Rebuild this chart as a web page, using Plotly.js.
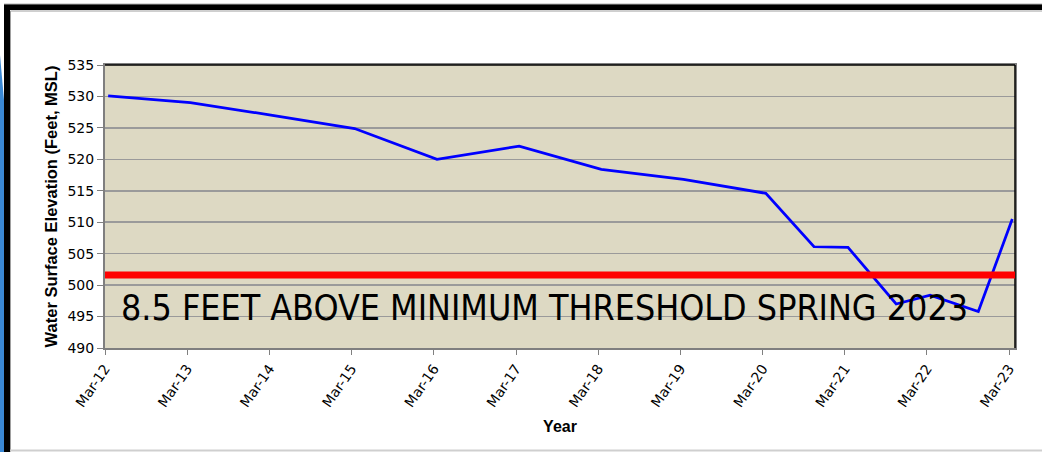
<!DOCTYPE html>
<html>
<head>
<meta charset="utf-8">
<script src="https://cdn.plot.ly/plotly-3.0.1.min.js"></script>
<style>
html,body{margin:0;padding:0;background:#fff;}
#chart{width:1042px;height:452px;}
</style>
</head>
<body>
<div id="chart"></div>
<script>
// ---- data ----
var dates = ['2012-03-15','2013-03-15','2014-03-15','2015-03-15','2016-03-15','2017-03-15','2018-03-15','2019-03-15','2020-03-15','2020-10-15','2021-03-15','2021-10-15','2022-03-15','2022-10-15','2023-03-15'];
var elevation = [530.1, 529.0, 527.0, 524.9, 520.0, 522.1, 518.4, 516.8, 514.6, 506.1, 506.0, 497.0, 498.4, 495.8, 510.5];
var tickDates = ['2012-03-01','2013-03-01','2014-03-01','2015-03-01','2016-03-01','2017-03-01','2018-03-01','2019-03-01','2020-03-01','2021-03-01','2022-03-01','2023-03-01'];
var tickLabels = ['Mar-12','Mar-13','Mar-14','Mar-15','Mar-16','Mar-17','Mar-18','Mar-19','Mar-20','Mar-21','Mar-22','Mar-23'];
var yTicks = [490, 495, 500, 505, 510, 515, 520, 525, 530, 535];
var thresholdElev = 501.6;
var noteText = '8.5 FEET ABOVE MINIMUM THRESHOLD SPRING 2023';

// ---- layout helpers (pixel -> paper) ----
var W = 1042, H = 452, L = 105, R = 27, T = 65, B = 104;
var pw = W - L - R, ph = H - T - B;
function px(x){ return (x - L) / pw; }
function py(y){ return (H - B - y) / ph; }

var trace = {
  x: dates, y: elevation, type: 'scatter', mode: 'lines',
  line: {color: '#0000FF', width: 2.75},
  hoverinfo: 'skip', showlegend: false
};

var tickFont = {family: 'DejaVu Sans, sans-serif', size: 14, color: '#000'};
var xTitleFont = {family: 'Liberation Sans, Arial, sans-serif', size: 16, color: '#000', weight: 'bold'};
var yTitleFont = {family: 'Liberation Sans, Arial, sans-serif', size: 16.5, color: '#000', weight: 'bold'};

var layout = {
  width: W, height: H,
  margin: {l: L, r: R, t: T, b: B, pad: 0},
  paper_bgcolor: '#ffffff',
  plot_bgcolor: '#DDD9C3',
  showlegend: false,
  xaxis: {
    type: 'date',
    range: ['2012-03-01', '2023-03-27'],
    tickmode: 'array', tickvals: tickDates, ticktext: tickLabels,
    tickangle: -55, tickfont: tickFont,
    ticks: 'outside', ticklen: 5, tickwidth: 1, tickcolor: '#808080',
    showgrid: false, zeroline: false,
    showline: true, linecolor: '#7f7f7f', linewidth: 2, mirror: true,
    title: {text: '<b>Year</b>', font: xTitleFont, standoff: 12}
  },
  yaxis: {
    range: [490, 535],
    tickmode: 'array', tickvals: yTicks,
    tickfont: tickFont,
    ticks: 'outside', ticklen: 6, tickwidth: 1, tickcolor: '#808080',
    showgrid: true, gridcolor: '#9a9a9a', gridwidth: 1.6,
    zeroline: false,
    showline: true, linecolor: '#7f7f7f', linewidth: 2, mirror: true,
    title: {text: '<b>Water Surface Elevation (Feet, MSL)</b>', font: yTitleFont, standoff: 6}
  },
  shapes: [
    {type: 'line', xref: 'paper', yref: 'paper', x0: 0, x1: 1, y0: 1, y1: 1, line: {color: '#000', width: 1.5}},
    {type: 'line', xref: 'paper', yref: 'paper', x0: 1, x1: 1, y0: 0, y1: 1, line: {color: '#000', width: 1.5}},
    {type: 'line', xref: 'paper', yref: 'y', x0: 0, x1: 1, y0: thresholdElev, y1: thresholdElev,
     line: {color: '#FF0000', width: 7}},
    {type: 'path', xref: 'paper', yref: 'paper', layer: 'above',
     path: 'M ' + px(0) + ',' + py(55) + ' L ' + px(4) + ',' + py(100) + ' L ' + px(4) + ',' + py(452) + ' L ' + px(0) + ',' + py(452) + ' Z',
     fillcolor: '#3A88D4', line: {width: 0}},
    {type: 'rect', xref: 'paper', yref: 'paper', x0: px(4), x1: px(1042), y0: py(10), y1: py(4),
     fillcolor: '#000', line: {width: 0}},
    {type: 'rect', xref: 'paper', yref: 'paper', x0: px(4), x1: px(10), y0: py(452), y1: py(4),
     fillcolor: '#000', line: {width: 0}},
    {type: 'line', xref: 'paper', yref: 'paper', x0: px(10.5), x1: px(1042), y0: py(11), y1: py(11), line: {color: '#a0a0a0', width: 1}},
    {type: 'line', xref: 'paper', yref: 'paper', x0: px(10.5), x1: px(10.5), y0: py(452), y1: py(11), line: {color: '#a0a0a0', width: 1}},
    {type: 'line', xref: 'paper', yref: 'paper', x0: px(4), x1: px(1042), y0: py(4), y1: py(4), line: {color: '#b0b0b0', width: 1}},
    {type: 'line', xref: 'paper', yref: 'paper', x0: px(10), x1: px(1042), y0: py(450.5), y1: py(450.5), line: {color: '#cfcfcf', width: 2}}
  ],
  annotations: [{
    text: noteText, xref: 'paper', yref: 'paper',
    x: px(544.5), y: py(307), xanchor: 'center', yanchor: 'middle',
    showarrow: false,
    font: {family: 'Liberation Sans Narrow, DejaVu Sans Condensed, Arial Narrow, sans-serif', size: 35.5, color: '#000'}
  }]
};

Plotly.newPlot('chart', [trace], layout, {displayModeBar: false, staticPlot: true});
</script>
</body>
</html>
